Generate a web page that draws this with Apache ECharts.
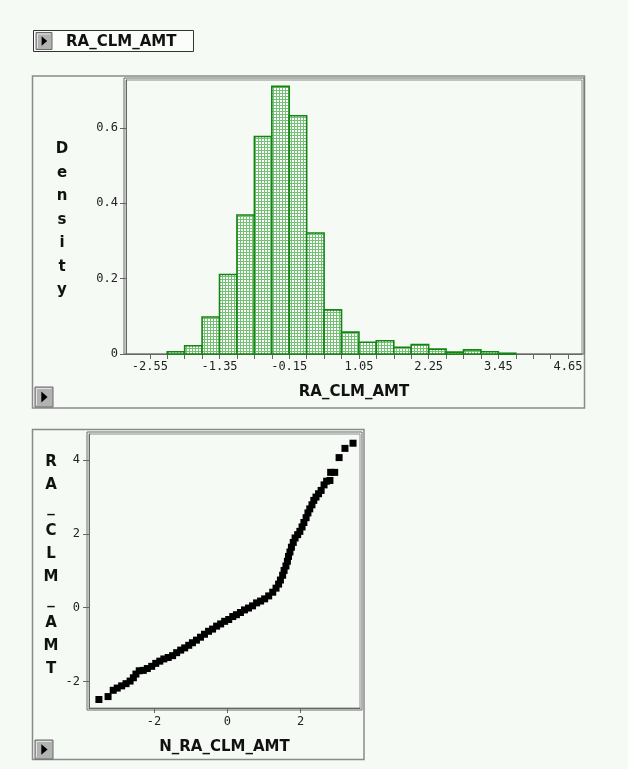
<!DOCTYPE html>
<html><head><meta charset="utf-8">
<script src="https://cdn.jsdelivr.net/npm/echarts@6/dist/echarts.min.js"></script>
<style>html,body{margin:0;padding:0;background:#f5faf5;} #c{width:628px;height:769px;}</style>
</head><body><div id="c"></div>
<script>
// ---- Histogram data ----
const binLeft = [-2.25,-1.95,-1.65,-1.35,-1.05,-0.75,-0.45,-0.15,0.15,0.45,0.75,1.05,1.35,1.65,1.95,2.25,2.55,2.85,3.15,3.45];
const density = [0.006,0.022,0.098,0.211,0.369,0.577,0.710,0.632,0.321,0.117,0.058,0.031,0.035,0.018,0.025,0.013,0.005,0.011,0.006,0.002];
const binWidth = 0.3;
const histTicks = [-2.55,-2.25,-1.95,-1.65,-1.35,-1.05,-0.75,-0.45,-0.15,0.15,0.45,0.75,1.05,1.35,1.65,1.95,2.25,2.55,2.85,3.15,3.45,3.75,4.05,4.35,4.65];
const histLabels = [-2.55,-1.35,-0.15,1.05,2.25,3.45,4.65];
const densityTicks = [0,0.2,0.4,0.6];
const varName = 'RA_CLM_AMT';
const yName = 'Density';
// ---- Normal QQ plot data (normal quantile, sorted value) ----
const qqX = [-3.50,-3.25,-3.11,-3.00,-2.88,-2.76,-2.65,-2.56,-2.49,-2.40,-2.29,-2.18,-2.06,-1.95,-1.84,-1.73,-1.61,-1.49,-1.38,-1.27,-1.16,-1.05,-0.95,-0.84,-0.73,-0.62,-0.51,-0.40,-0.29,-0.18,-0.07,0.04,0.15,0.25,0.36,0.47,0.58,0.69,0.80,0.91,1.02,1.13,1.24,1.33,1.40,1.45,1.51,1.55,1.60,1.64,1.67,1.71,1.75,1.80,1.85,1.92,1.98,2.04,2.09,2.15,2.20,2.25,2.31,2.36,2.42,2.49,2.56,2.64,2.71,2.80,2.82,2.93,3.05,3.21,3.43];
const qqY = [-2.49,-2.41,-2.24,-2.18,-2.12,-2.06,-1.99,-1.90,-1.80,-1.71,-1.70,-1.65,-1.59,-1.51,-1.45,-1.39,-1.35,-1.30,-1.22,-1.15,-1.09,-1.02,-0.95,-0.88,-0.80,-0.72,-0.64,-0.58,-0.50,-0.44,-0.37,-0.32,-0.24,-0.19,-0.13,-0.06,-0.01,0.05,0.13,0.18,0.24,0.32,0.42,0.53,0.64,0.75,0.88,1.01,1.13,1.26,1.39,1.51,1.64,1.77,1.89,1.98,2.07,2.19,2.31,2.44,2.57,2.68,2.79,2.91,3.00,3.09,3.18,3.33,3.43,3.45,3.67,3.67,4.07,4.32,4.46];
const qqXTicks = [-2,0,2];
const qqYTicks = [-2,0,2,4];
const qqXName = 'N_RA_CLM_AMT';

// fill pattern for the bars
const pc = document.createElement('canvas');
pc.width = 3; pc.height = 3;
const pctx = pc.getContext('2d');
pctx.fillStyle = '#ffffff'; pctx.fillRect(0,0,3,3);
pctx.fillStyle = '#74c074'; pctx.fillRect(0,0,3,1); pctx.fillRect(0,0,1,3);
const pattern = {image: pc, repeat: 'repeat'};

const mono = 'DejaVu Sans Mono';
const boldFont = {fontFamily: 'DejaVu Sans', fontWeight: 'bold', fontSize: 15, color: '#111'};

function button(x, y, w, h) {
  return {type: 'group', children: [
    {type: 'rect', shape: {x: x, y: y, width: w, height: h}, style: {fill: '#b2b2b2', stroke: '#6a6a6a', lineWidth: 1}},
    {type: 'polyline', shape: {points: [[x+1.5, y+h-1.5],[x+1.5, y+1.5],[x+w-1.5, y+1.5]]}, style: {stroke: '#e2e2e2', lineWidth: 1, fill: null}},
    {type: 'polygon', shape: {points: [[x+w*0.35, y+h*0.22],[x+w*0.35, y+h*0.78],[x+w*0.7, y+h*0.5]]}, style: {fill: '#000'}}
  ]};
}

const chart = echarts.init(document.getElementById('c'), null, {renderer: 'canvas'});
chart.setOption({
  backgroundColor: '#f5faf5',
  animation: false,
  grid: [
    {left: 126, top: 80, width: 456, height: 274, show: true, borderColor: '#8c8c8c', borderWidth: 1, backgroundColor: 'transparent'},
    {left: 89, top: 434, width: 271, height: 274, show: true, borderColor: '#8c8c8c', borderWidth: 1, backgroundColor: 'transparent'}
  ],
  xAxis: [
    {type: 'value', gridIndex: 0, min: -2.96, max: 4.89,
     name: varName, nameLocation: 'middle', nameGap: 31, nameTextStyle: boldFont,
     axisLine: {show: true, onZero: false, lineStyle: {color: '#666', width: 1}},
     axisTick: {show: true, length: 5, customValues: histTicks, lineStyle: {color: '#666'}},
     axisLabel: {customValues: histLabels, formatter: v => v.toFixed(2), fontFamily: mono, fontSize: 12, color: '#222', margin: 7},
     splitLine: {show: false}},
    {type: 'value', gridIndex: 1, min: -3.77, max: 3.62,
     name: qqXName, nameLocation: 'middle', nameGap: 32, nameTextStyle: boldFont,
     axisLine: {show: true, onZero: false, lineStyle: {color: '#666', width: 1}},
     axisTick: {show: true, length: 5, customValues: qqXTicks, lineStyle: {color: '#666'}},
     axisLabel: {customValues: qqXTicks, fontFamily: mono, fontSize: 12, color: '#222', margin: 8},
     splitLine: {show: false}}
  ],
  yAxis: [
    {type: 'value', gridIndex: 0, min: 0, max: 0.727,
     axisLine: {show: true, onZero: false, lineStyle: {color: '#666', width: 1}},
     axisTick: {show: true, length: 6, customValues: densityTicks, lineStyle: {color: '#666'}},
     axisLabel: {customValues: densityTicks, formatter: v => (v === 0 ? '0' : v.toFixed(1)), fontFamily: mono, fontSize: 12, color: '#222', margin: 8},
     splitLine: {show: false}},
    {type: 'value', gridIndex: 1, min: -2.72, max: 4.71,
     axisLine: {show: true, onZero: false, lineStyle: {color: '#666', width: 1}},
     axisTick: {show: true, length: 6, customValues: qqYTicks, lineStyle: {color: '#666'}},
     axisLabel: {customValues: qqYTicks, fontFamily: mono, fontSize: 12, color: '#222', margin: 9},
     splitLine: {show: false}}
  ],
  series: [
    {type: 'custom', xAxisIndex: 0, yAxisIndex: 0,
     data: binLeft.map((b, i) => [b, density[i], binWidth]),
     encode: {x: 0, y: 1},
     renderItem: function (params, api) {
       const x0 = api.value(0), h = api.value(1), w = api.value(2);
       const p0 = api.coord([x0, h]);
       const p1 = api.coord([x0 + w, 0]);
       return {type: 'rect',
         shape: {x: p0[0], y: p0[1], width: p1[0] - p0[0], height: p1[1] - p0[1]},
         style: {fill: pattern, stroke: '#128512', lineWidth: 1.6}};
     }},
    {type: 'scatter', xAxisIndex: 1, yAxisIndex: 1,
     data: qqX.map((x, i) => [x, qqY[i]]),
     symbol: 'rect', symbolSize: 7,
     itemStyle: {color: '#000', opacity: 1}}
  ],
  graphic: [
    // outer panels
    {type: 'rect', shape: {x: 32.5, y: 76, width: 552, height: 332}, style: {fill: null, stroke: '#8a8a8a', lineWidth: 1.5}, z: -1},
    {type: 'rect', shape: {x: 32.5, y: 429.5, width: 331.5, height: 330}, style: {fill: null, stroke: '#8a8a8a', lineWidth: 1.5}, z: -1},
    // double frame lines
    {type: 'rect', shape: {x: 124, y: 78, width: 460, height: 276}, style: {fill: null, stroke: '#6a6a6a', lineWidth: 1}},
    {type: 'rect', shape: {x: 87, y: 432, width: 275, height: 278}, style: {fill: null, stroke: '#6a6a6a', lineWidth: 1}},
    // header variable box
    {type: 'rect', shape: {x: 33.5, y: 30.5, width: 160, height: 21}, style: {fill: '#fbfdfb', stroke: '#333', lineWidth: 1}},
    button(36, 32.5, 16, 17),
    {type: 'text', style: Object.assign({x: 66, y: 42, text: varName, align: 'left', verticalAlign: 'middle'}, boldFont, {fill: '#111'})},
    // panel buttons
    button(35, 387, 18, 20),
    button(35, 740, 18, 19),
    // vertical axis titles
    {type: 'text', style: Object.assign({x: 62, y: 220, text: yName.split('').join('\n'), align: 'center', verticalAlign: 'middle', lineHeight: 23.5}, boldFont, {fill: '#111'})},
    {type: 'text', style: Object.assign({x: 51, y: 566, text: varName.split('').join('\n'), align: 'center', verticalAlign: 'middle', lineHeight: 23}, boldFont, {fill: '#111'})}
  ]
});
</script>
</body></html>
